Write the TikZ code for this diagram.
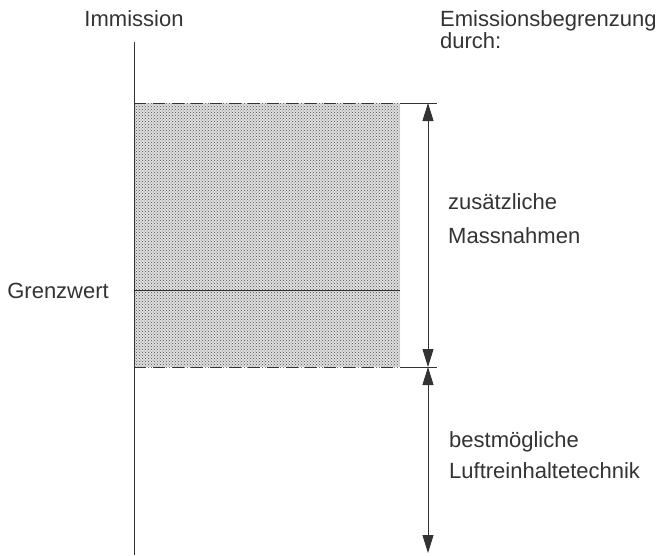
\documentclass[tikz,border=0pt]{standalone}
\usepackage{fontspec}
\setmainfont{Liberation Sans}
\usetikzlibrary{arrows.meta,patterns}
\tikzset{
  lbl/.style={font=\fontsize{22}{26}\selectfont, text=black!80, inner sep=0pt, anchor=base west},
  dimline/.style={{Triangle[length=18pt,width=11pt]}-{Triangle[length=18pt,width=11pt]}, line width=0.9pt, black!80},
  edge/.style={line width=0.9pt, black!80}
}
\begin{document}
\begin{tikzpicture}[x=1pt,y=-1pt]
  \useasboundingbox (0,0) rectangle (663,555);
  % shaded band
  \fill[black!12] (134,103) rectangle (400,367);
  \fill[pattern=crosshatch dots, pattern color=black!70] (134,103) rectangle (400,367);
  \coordinate (axtop) at (134,42);
  \coordinate (axbot) at (134,555);
  \coordinate (uptop) at (428,103);
  \coordinate (upmid) at (428,367);
  \coordinate (lowend) at (428,553);
  \draw [edge] (axtop) -- (axbot);
  % band edges
  \draw [edge, dash pattern=on 12pt off 7pt] (134,103) -- (400,103);
  \draw [edge] (400,103) -- (437,103);
  \draw [edge, dash pattern=on 12pt off 7pt] (134,367) -- (400,367);
  \draw [edge] (400,367) -- (437,367);
  \draw [edge] (134,290) -- (400,290);
  % arrows
  \draw [dimline] (uptop) -- (upmid);
  \draw [dimline] (upmid) -- (lowend);
  % labels
  \node [lbl, anchor=base] (imm) at (134,26) {Immission};
  \node [lbl] (emi) at (440,26) {Emissionsbegrenzung};
  \node [lbl] (dur) at (440,48) {durch:};
  \node [lbl] (zus) at (448,209) {zusätzliche};
  \node [lbl] (mas) at (448,243) {Massnahmen};
  \node [lbl, anchor=base east] (grz) at (109,298) {Grenzwert};
  \node [lbl] (best) at (449,447) {bestmögliche};
  \node [lbl] (luft) at (449,478) {Luftreinhaltetechnik};
\end{tikzpicture}
\end{document}
